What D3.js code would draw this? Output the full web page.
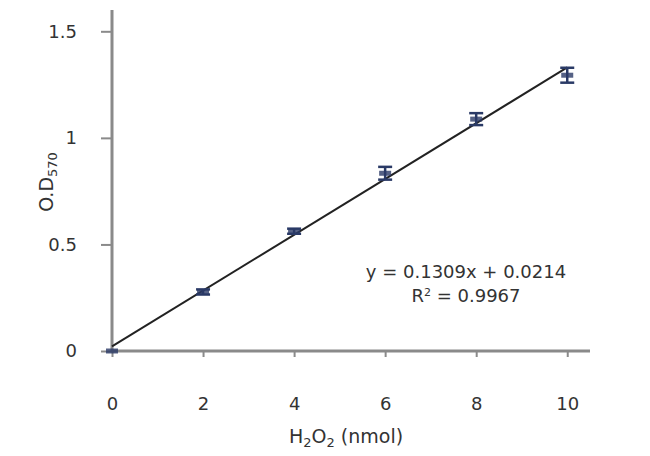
<!DOCTYPE html>
<html>
<head>
<meta charset="utf-8">
<script src="https://cdn.jsdelivr.net/npm/d3@7"></script>
<style>
  html, body { margin: 0; padding: 0; background: #fff; }
  svg { display: block; }
  text { font-family: "DejaVu Sans", Verdana, sans-serif; fill: #333; }
</style>
</head>
<body>
<svg id="chart" width="650" height="456"></svg>
<script>
// Data
const xValues = [0, 2, 4, 6, 8, 10];
const odValues = [0.0, 0.277, 0.562, 0.834, 1.088, 1.294];
const errValues = [0.0, 0.012, 0.012, 0.030, 0.028, 0.035];
const xTicks = [0, 2, 4, 6, 8, 10];
const yTicks = [0, 0.5, 1, 1.5];
const slope = 0.1309;
const intercept = 0.0214;
const r2 = 0.9967;

const svg = d3.select("#chart");
const x = d3.scaleLinear().domain([0, 10.5]).range([112, 590]);
const y = d3.scaleLinear().domain([0, 1.6]).range([351, 10]);

const axisColor = "#8a8a8a";

// Y axis
const yAxis = svg.append("g").attr("transform", `translate(${x(0)},0)`)
  .call(d3.axisLeft(y).tickValues(yTicks).tickSize(11).tickPadding(24)
    .tickFormat(d => d === 0 ? "0" : String(d)));
yAxis.select(".domain").attr("stroke", axisColor).attr("stroke-width", 3)
  .attr("d", `M0,${y(1.6)}V${y(0)}`);
yAxis.selectAll(".tick line").attr("stroke", axisColor).attr("stroke-width", 2);
yAxis.selectAll(".tick text").style("font-size", "18px").attr("fill", "#333");

// X axis
const xAxis = svg.append("g").attr("transform", `translate(0,${y(0)})`)
  .call(d3.axisBottom(x).tickValues(xTicks).tickSize(6).tickPadding(40));
xAxis.select(".domain").attr("stroke", axisColor).attr("stroke-width", 3)
  .attr("d", `M${x(0)},0H${x(10.5)}`);
xAxis.selectAll(".tick line").attr("stroke", axisColor).attr("stroke-width", 2);
xAxis.selectAll(".tick text").style("font-size", "18px").attr("fill", "#333");

// Trendline
const lineData = [0, 10].map(v => ({ x: v, y: slope * v + intercept }));
svg.append("path")
  .datum(lineData)
  .attr("fill", "none")
  .attr("stroke", "#222")
  .attr("stroke-width", 2)
  .attr("d", d3.line().x(d => x(d.x)).y(d => y(d.y)));

// Error bars and markers
const pts = xValues.map((v, i) => ({ x: v, y: odValues[i], e: errValues[i] }));
const eb = svg.append("g").attr("stroke", "#2a3a66").attr("stroke-width", 2.5);
pts.forEach(p => {
  if (p.e > 0) {
    eb.append("line").attr("x1", x(p.x)).attr("x2", x(p.x))
      .attr("y1", y(p.y + p.e)).attr("y2", y(p.y - p.e));
    [p.y + p.e, p.y - p.e].forEach(v => {
      eb.append("line").attr("x1", x(p.x) - 7).attr("x2", x(p.x) + 7)
        .attr("y1", y(v)).attr("y2", y(v));
    });
  }
});
svg.append("g").selectAll("rect").data(pts).join("rect")
  .attr("x", d => x(d.x) - 6).attr("y", d => y(d.y) - 2.5)
  .attr("width", 12).attr("height", 5)
  .attr("fill", "#2a3a66").attr("opacity", 0.8);

// Axis titles
const xt = svg.append("text").attr("x", 346).attr("y", 443)
  .attr("text-anchor", "middle").style("font-size", "19px");
xt.append("tspan").text("H");
xt.append("tspan").text("2").attr("dy", 4).style("font-size", "13px");
xt.append("tspan").text("O").attr("dy", -4);
xt.append("tspan").text("2").attr("dy", 4).style("font-size", "13px");
xt.append("tspan").text(" (nmol)").attr("dy", -4);

const yt = svg.append("text").attr("transform", "translate(53,182) rotate(-90)")
  .attr("text-anchor", "middle").style("font-size", "19px");
yt.append("tspan").text("O.D");
yt.append("tspan").text("570").attr("dy", 4).style("font-size", "13px");

// Equation text
svg.append("text").attr("x", 466).attr("y", 278).attr("text-anchor", "middle")
  .style("font-size", "18px")
  .text(`y = ${slope}x + ${intercept}`);
const rt = svg.append("text").attr("x", 466).attr("y", 302).attr("text-anchor", "middle")
  .style("font-size", "18px");
rt.append("tspan").text("R");
rt.append("tspan").text("2").attr("dy", -6).style("font-size", "11px");
rt.append("tspan").text(` = ${r2}`).attr("dy", 6);
</script>
</body>
</html>
